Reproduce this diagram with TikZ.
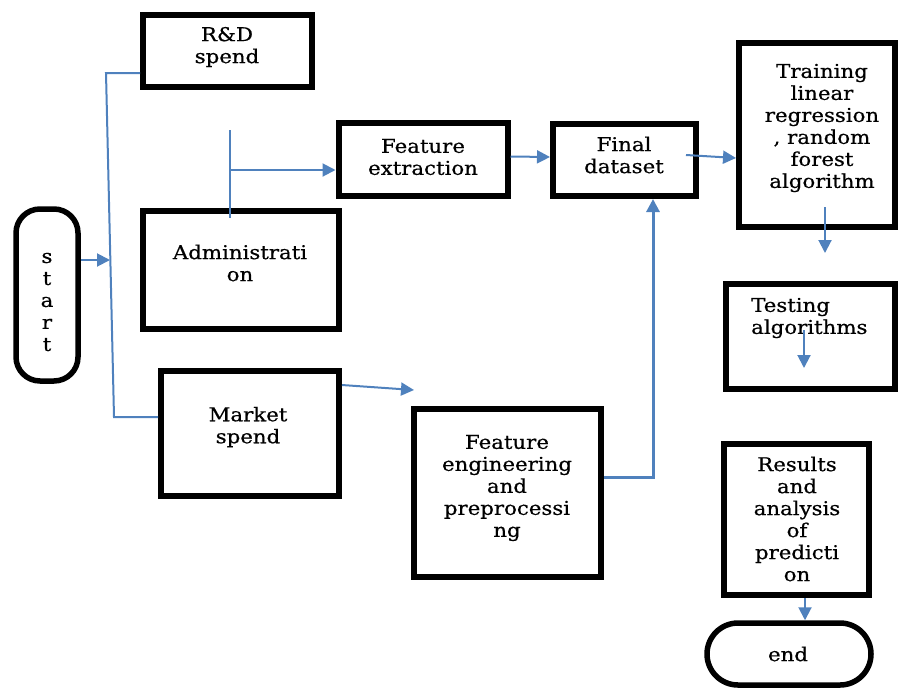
\documentclass[tikz,border=0pt]{standalone}
\usepackage{fontspec}
\setmainfont[FakeStretch=1.12,FakeBold=0.6]{DejaVu Serif}
\usetikzlibrary{arrows.meta}
\definecolor{lineblue}{HTML}{4F81BD}
\begin{document}
\begin{tikzpicture}[x=1pt,y=-1pt,
  box/.style={draw=black,line width=6pt,inner sep=0pt,fill=none},
  pill/.style={draw=black,line width=5.5pt,inner sep=0pt},
  txt/.style={font=\fontsize{19}{22}\selectfont,align=center,inner sep=0pt,text=black},
  conn/.style={draw=lineblue,line width=2pt},
  arr/.style={conn,-{Triangle[length=13pt,width=13pt]}}]
\useasboundingbox (0,0) rectangle (901,689);
% boxes
\node[pill,rounded corners=24pt,minimum width=62pt,minimum height=172pt] (start) at (47,295) {};
\node[box,minimum width=169pt,minimum height=72pt] (rd) at (227.5,51) {};
\node[box,minimum width=196pt,minimum height=118pt] (admin) at (241,270) {};
\node[box,minimum width=169pt,minimum height=73pt] (fe) at (423,159.5) {};
\node[box,minimum width=143pt,minimum height=72pt] (fd) at (624.5,160) {};
\node[box,minimum width=156pt,minimum height=184pt] (train) at (817,135) {};
\node[box,minimum width=169pt,minimum height=105pt] (test) at (810.5,336.5) {};
\node[box,minimum width=178pt,minimum height=125pt] (market) at (250,433.5) {};
\node[box,minimum width=187pt,minimum height=168pt] (feng) at (507.5,493) {};
\node[box,minimum width=145pt,minimum height=151pt] (res) at (796.5,519.5) {};
\node[pill,rounded corners=31pt,minimum width=164pt,minimum height=62pt] (end) at (789,654) {};
% texts
\node[txt] (tstart) at (47,302) {s\\t\\a\\r\\t};
\node[txt] (trd) at (227,47) {R\&D\\spend};
\node[txt] (tadmin) at (240,263) {Administrati\\on};
\node[txt] (tfe) at (423,157) {Feature\\extraction};
\node[txt] (tfd) at (624,155) {Final\\dataset};
\node[txt] (ttrain) at (822,128) {Training\\linear\\regression\\, random\\forest\\algorithm};
\node[txt,align=left,anchor=west] (ttest) at (751,318) {Testing\\algorithms};
\node[txt] (tmarket) at (248,427) {Market\\spend};
\node[txt] (tfeng) at (507,488) {Feature\\engineering\\and\\preprocessi\\ng};
\node[txt] (tres) at (797,519) {Results\\and\\analysis\\of\\predicti\\on};
\node[txt] (tend) at (788,654) {end};
% coordinates
\coordinate (busTop) at (106,73);
\coordinate (busBot) at (114,417);
\coordinate (busIn) at (110,260);
\coordinate (aTop) at (230,130);
\coordinate (aMid) at (230,170);
\coordinate (trEnd) at (825,253);
\coordinate (tsTop) at (804,330);
\coordinate (tsEnd) at (804,368);
\coordinate (mEnd) at (414,390);
% connectors
\draw[arr] (start.east |- busIn) -- (busIn);
\draw[conn] (rd.west |- busTop) -- (busTop) -- (busBot) -- (market.west |- busBot);
\draw[conn] (aTop) -- ([yshift=-10pt]admin.north -| aTop);
\draw[arr] (aMid) -- (fe.west |- aMid);
\draw[arr] ([yshift=3pt]fe.east) -- ([yshift=3pt]fd.west);
\draw[arr] ([xshift=-13pt,yshift=5pt]fd.east) -- ([yshift=-23pt]train.west);
\draw[arr] ([yshift=23pt]train.south -| trEnd) -- (trEnd);
\draw[arr] (tsTop) -- (tsEnd);
\draw[arr] ([yshift=-17pt]market.north east) -- (mEnd);
\draw[arr,line width=3pt] ([yshift=16pt]feng.east) -| ([xshift=28.5pt]fd.south);
\draw[arr] ([xshift=8.5pt]res.south) -- ([xshift=8.5pt]res.south |- end.north);
\end{tikzpicture}
\end{document}
